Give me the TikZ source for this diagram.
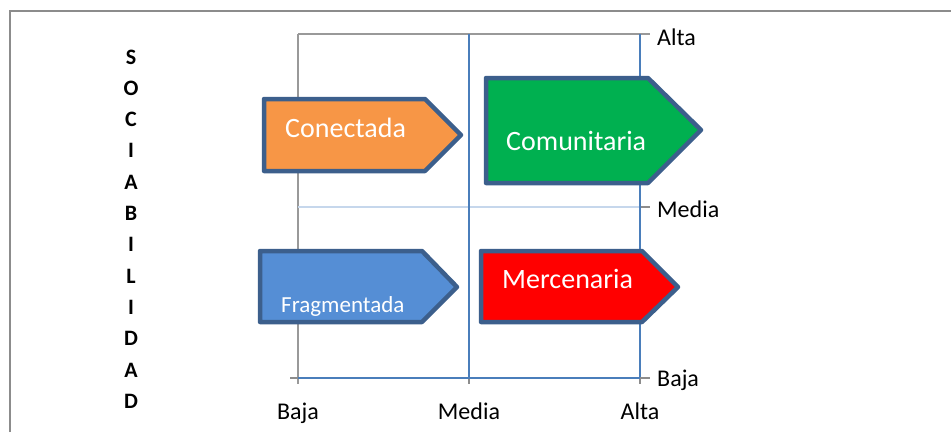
\documentclass[tikz,border=0pt]{standalone}
\usepackage{fontspec}
\setmainfont{Carlito}
\begin{document}
\begin{tikzpicture}[x=1pt,y=-1pt,
  gridgray/.style={draw=black!40,line width=1.3pt},
  gridblue/.style={draw=axisblue,line width=1.3pt},
  gridlight/.style={draw=lightblue,line width=1.3pt},
  tickgray/.style={draw=black!45,line width=1.3pt},
  arrowshape/.style={draw=borderblue,line width=4.5pt,line join=round},
  arrowtext/.style={anchor=base west,inner sep=0pt,text=white,font=\fontsize{28}{30}\selectfont},
  axislabel/.style={inner sep=0pt,font=\fontsize{24}{26}\selectfont},
  letter/.style={inner sep=0pt,anchor=base,font=\bfseries\fontsize{22}{24}\selectfont}]
\definecolor{axisblue}{HTML}{4A7EBB}
\definecolor{lightblue}{HTML}{C6D7EC}
\definecolor{borderblue}{HTML}{3C5F8C}
\definecolor{orangefill}{HTML}{F79646}
\definecolor{greenfill}{HTML}{00B050}
\definecolor{bluefill}{HTML}{558ED5}
\useasboundingbox (0,0) rectangle (951,432);
\fill[white] (0,0) rectangle (951,432);
% outer frame
\draw[draw=black!45,line width=1.5pt] (10,432) -- (10,11) -- (951,11);
% grid
\coordinate (tl) at (298,34);
\coordinate (tr) at (650,34);
\draw[gridgray] (tl) -- (tr);
\coordinate (lb) at (298,384);
\draw[gridgray] (tl) -- (lb);
\coordinate (ml) at (298,207);
\coordinate (mr) at (640,207);
\coordinate (mt) at (650,207);
\draw[gridlight] (ml) -- (mr);
\draw[tickgray] (mr) -- (mt);
\coordinate (mvt) at (469,34);
\coordinate (mvb) at (469,378);
\coordinate (mvtick) at (469,384);
\draw[gridblue] (mvt) -- (mvb);
\draw[tickgray] (mvb) -- (mvtick);
\coordinate (avt) at (640,34);
\coordinate (avb) at (640,378);
\coordinate (avtick) at (640,384);
\draw[gridblue] (avt) -- (avb);
\draw[tickgray] (avb) -- (avtick);
\coordinate (bl) at (290,378);
\coordinate (b0) at (298,378);
\coordinate (br) at (650,378);
\draw[tickgray] (bl) -- (b0);
\draw[gridblue] (b0) -- (avb);
\draw[tickgray] (avb) -- (br);
% arrows
\draw[arrowshape,fill=orangefill] (264,99) -- (425,99) -- (461,135) -- (425,171) -- (264,171) -- cycle;
\draw[arrowshape,fill=greenfill] (486,78) -- (648,78) -- (701,130) -- (648,183) -- (486,183) -- cycle;
\draw[arrowshape,fill=bluefill] (260,251) -- (422,251) -- (457,287) -- (422,322) -- (260,322) -- cycle;
\draw[arrowshape,fill=red] (481,251) -- (642,251) -- (678,287) -- (642,322) -- (481,322) -- cycle;
\node[arrowtext] (conectada) at (285,137) {Conectada};
\node[arrowtext] (comunitaria) at (506,150) {Comunitaria};
\node[arrowtext] (mercenaria) at (502,288) {Mercenaria};
\node[arrowtext,font=\fontsize{23}{25}\selectfont] (fragmentada) at (281,312) {Fragmentada};
% axis labels
\node[axislabel,anchor=west] (yalta) at (657,37) {Alta};
\node[axislabel,anchor=west] (ymedia) at (657,209) {Media};
\node[axislabel,anchor=west] (ybaja) at (657,380) {Baja};
\node[axislabel,anchor=base] (xbaja) at (298,419) {Baja};
\node[axislabel,anchor=base] (xmedia) at (469,419) {Media};
\node[axislabel,anchor=base] (xalta) at (640,419) {Alta};
% vertical word
\foreach \l [count=\i] in {S,O,C,I,A,B,I,L,I,D,A,D}
  \node[letter] (v\i) at (131,{64+(\i-1)*31.3}) {\l};
\end{tikzpicture}
\end{document}
